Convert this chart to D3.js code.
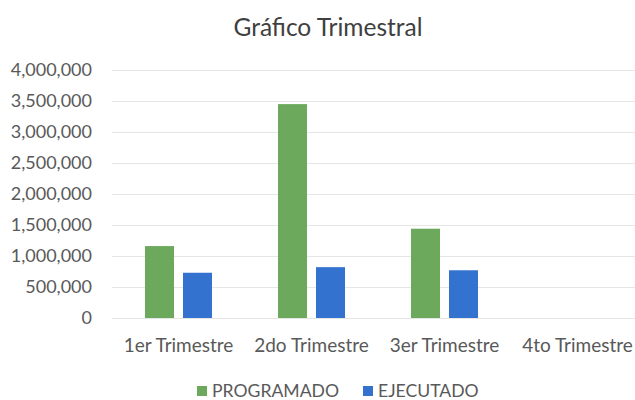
<!DOCTYPE html>
<html lang="es">
<head>
  <meta charset="utf-8">
  <script src="https://d3js.org/d3.v7.min.js"></script>
  <style>
    body {
      margin: 0;
      background: #fff;
      font-family: Lato, "Open Sans", Arial, sans-serif;
    }
  </style>
</head>
<body>
<div id="chart"></div>
<script>
// data
const categories = ['1er Trimestre', '2do Trimestre', '3er Trimestre', '4to Trimestre'];
const programado = [1160000, 3450000, 1440000, 0];
const ejecutado = [730000, 820000, 770000, 0];
const seriesNames = ['PROGRAMADO', 'EJECUTADO'];
const yTicks = [0, 500000, 1000000, 1500000, 2000000, 2500000, 3000000, 3500000, 4000000];

const width = 635;
const height = 400;
const margin = { top: 70, right: -9, bottom: 82, left: 112 };
const font = 'Lato, "Open Sans", Arial, sans-serif';

const colours = d3.scaleOrdinal()
  .domain(seriesNames)
  .range(['#6ca95c', '#3372cf']);

const svg = d3.select('#chart')
  .append('svg')
  .attr('width', width)
  .attr('height', height);

// title
svg.append('text')
  .attr('x', 328)
  .attr('y', 36)
  .attr('text-anchor', 'middle')
  .style('font-size', '24.5px')
  .style('fill', '#404040')
  .text('Gráfico Trimestral');

const x = d3.scaleBand()
  .domain(categories)
  .range([margin.left, width - margin.right])
  .paddingInner(0)
  .paddingOuter(0);

// two bars per quarter, ~29px wide with a ~9px gap
const x1 = d3.scaleBand()
  .domain(seriesNames)
  .range([0, x.bandwidth()])
  .paddingInner(0.237)
  .paddingOuter(0.868);

const y = d3.scaleLinear()
  .domain([0, 4000000])
  .range([height - margin.bottom, margin.top]);

// gridlines
svg.append('g')
  .selectAll('line')
  .data(yTicks)
  .join('line')
  .attr('x1', margin.left)
  .attr('x2', width)
  .attr('y1', d => Math.round(y(d)) + 0.5)
  .attr('y2', d => Math.round(y(d)) + 0.5)
  .attr('stroke', '#e6e6e6')
  .attr('stroke-width', 1);

// y axis labels
const yAxis = svg.append('g')
  .attr('transform', `translate(${margin.left - 20},0)`)
  .call(d3.axisLeft(y).tickValues(yTicks).tickSize(0).tickPadding(0).tickFormat(d3.format(',')));
yAxis.select('.domain').remove();
yAxis.selectAll('text')
  .style('font-family', font)
  .style('font-size', '18px')
  .style('fill', '#595959');

// x axis labels
const xAxis = svg.append('g')
  .attr('transform', `translate(0,${height - margin.bottom})`)
  .call(d3.axisBottom(x).tickSize(0).tickPadding(21));
xAxis.select('.domain').remove();
xAxis.selectAll('text')
  .style('font-family', font)
  .style('font-size', '19px')
  .style('fill', '#595959');

// bars
const rows = categories.map((c, i) => ({ cat: c, values: [programado[i], ejecutado[i]] }));

svg.append('g')
  .selectAll('g')
  .data(rows)
  .join('g')
  .attr('transform', d => `translate(${x(d.cat)},0)`)
  .selectAll('rect')
  .data(d => d.values.map((v, j) => ({ key: seriesNames[j], value: v })))
  .join('rect')
  .attr('x', d => x1(d.key))
  .attr('width', x1.bandwidth())
  .attr('y', d => y(d.value))
  .attr('height', d => y(0) - y(d.value))
  .attr('fill', d => colours(d.key));

// legend
const legend = svg.append('g')
  .attr('transform', 'translate(197,397)');

const legendX = [0, 166];
const items = legend.selectAll('g')
  .data(seriesNames)
  .join('g')
  .attr('transform', (d, i) => `translate(${legendX[i]},0)`);

items.append('rect')
  .attr('x', 0)
  .attr('y', -11)
  .attr('width', 10)
  .attr('height', 10)
  .attr('fill', d => colours(d));

items.append('text')
  .attr('x', 15)
  .attr('y', 0)
  .style('font-family', font)
  .style('font-size', '17.6px')
  .style('fill', '#595959')
  .text(d => d);
</script>
</body>
</html>
